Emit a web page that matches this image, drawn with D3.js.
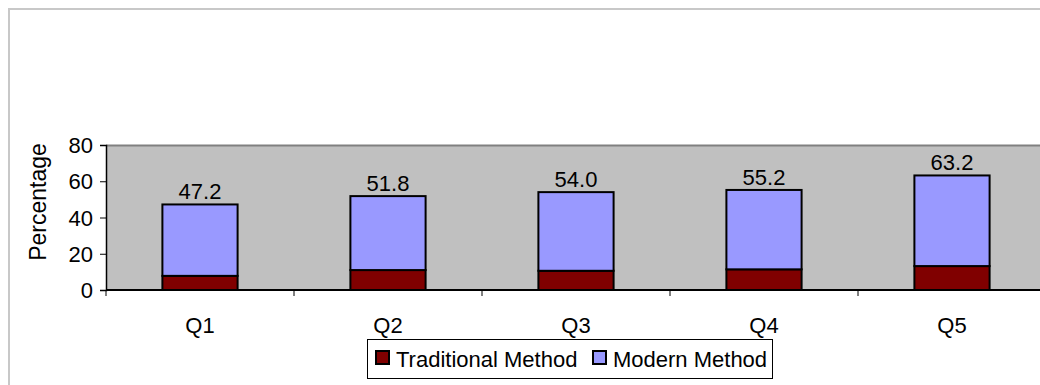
<!DOCTYPE html>
<html>
<head>
<meta charset="utf-8">
<script src="https://cdn.jsdelivr.net/npm/d3@7"></script>
<style>
  html, body { margin: 0; padding: 0; background: #fff; }
  svg { display: block; }
  text { font-family: "Liberation Sans", Arial, sans-serif; fill: #000; }
</style>
</head>
<body>
<svg id="chart" width="1040" height="385"></svg>
<script>
const categories = ["Q1", "Q2", "Q3", "Q4", "Q5"];
const traditional = [7.8, 11.0, 10.6, 11.4, 13.2];
const modern = [39.4, 40.8, 43.4, 43.8, 50.0];
const totalLabels = ["47.2", "51.8", "54.0", "55.2", "63.2"];
const yTicks = [0, 20, 40, 60, 80];
const seriesNames = ["Traditional Method", "Modern Method"];
const seriesColors = ["#800000", "#9999ff"];

(function () {
const svg = d3.select("#chart");
const pLeft = 106, pRight = 1046, pTop = 145, pBottom = 290;

// outer chart border
svg.append("rect").attr("x", 9).attr("y", 9).attr("width", 1100).attr("height", 500)
  .attr("fill", "#fff").attr("stroke", "#c8c8c8").attr("stroke-width", 2);

const x = d3.scaleBand().domain(categories).range([pLeft, pRight])
  .paddingInner(0.6).paddingOuter(0.3);
const y = d3.scaleLinear().domain([0, 80]).range([pBottom, pTop]);

// plot area
svg.append("rect").attr("x", pLeft).attr("y", pTop).attr("width", pRight - pLeft).attr("height", pBottom - pTop)
  .attr("fill", "#c0c0c0");
svg.append("line").attr("x1", pLeft).attr("x2", pRight).attr("y1", pTop + 0.5).attr("y2", pTop + 0.5)
  .attr("stroke", "#808080").attr("stroke-width", 2);

// stacked data
const data = categories.map((c, i) => ({ cat: c, values: [traditional[i], modern[i]], label: totalLabels[i] }));
const stack = d3.stack().keys([0, 1]).value((d, k) => d.values[k]);
const stacked = stack(data);

stacked.forEach((layer, k) => {
  svg.append("g").selectAll("rect").data(layer).join("rect")
    .attr("x", d => x(d.data.cat))
    .attr("y", d => y(d[1]))
    .attr("width", x.bandwidth())
    .attr("height", d => y(d[0]) - y(d[1]))
    .attr("fill", seriesColors[k])
    .attr("stroke", "#000").attr("stroke-width", 2);
});

// value labels
svg.append("g").selectAll("text").data(data).join("text")
  .attr("x", d => x(d.cat) + x.bandwidth() / 2)
  .attr("y", d => y(d.values[0] + d.values[1]) - 5)
  .attr("text-anchor", "middle").attr("font-size", 22)
  .text(d => d.label);

// y axis
const yAxis = svg.append("g").attr("transform", `translate(${pLeft},0)`)
  .call(d3.axisLeft(y).tickValues(yTicks).tickSize(6).tickPadding(7).tickFormat(d3.format("d")));
yAxis.select(".domain").attr("stroke", "#000").attr("stroke-width", 1.5);
yAxis.selectAll(".tick line").attr("stroke", "#000");
yAxis.selectAll(".tick text").attr("font-size", 22).attr("font-family", "Liberation Sans, Arial, sans-serif").attr("dy", "0.35em");

// x axis line
svg.append("line").attr("x1", pLeft).attr("x2", pRight).attr("y1", pBottom).attr("y2", pBottom)
  .attr("stroke", "#000").attr("stroke-width", 2);
// category boundary ticks
const boundaries = categories.map(c => x(c) - x.step() * 0.3);
svg.append("g").selectAll("line").data(boundaries).join("line")
  .attr("x1", d => d).attr("x2", d => d).attr("y1", pBottom).attr("y2", pBottom + 6)
  .attr("stroke", "#000").attr("stroke-width", 1);
// category labels
svg.append("g").selectAll("text").data(categories).join("text")
  .attr("x", d => x(d) + x.bandwidth() / 2).attr("y", 333)
  .attr("text-anchor", "middle").attr("font-size", 22).text(d => d);

// y title
svg.append("text").attr("transform", "translate(46,202) rotate(-90)")
  .attr("text-anchor", "middle").attr("font-size", 23).text("Percentage");

// legend
const lg = svg.append("g");
lg.append("rect").attr("x", 367.5).attr("y", 339.5).attr("width", 405).attr("height", 39)
  .attr("fill", "#fff").attr("stroke", "#000").attr("stroke-width", 1);
const legendX = [375, 592];
seriesNames.forEach((name, k) => {
  lg.append("rect").attr("x", legendX[k] + 1).attr("y", 351).attr("width", 13).attr("height", 13)
    .attr("fill", seriesColors[k]).attr("stroke", "#000").attr("stroke-width", 2);
  lg.append("text").attr("x", legendX[k] + 21).attr("y", 367).attr("font-size", 22).text(name);
});
})();
</script>
</body>
</html>
